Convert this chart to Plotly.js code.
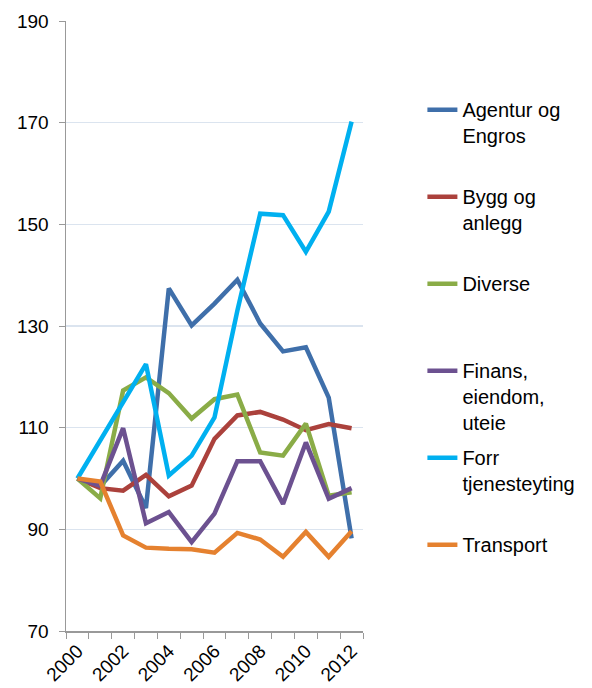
<!DOCTYPE html>
<html>
<head>
<meta charset="utf-8">
<script src="https://cdn.plot.ly/plotly-3.0.1.min.js"></script>
<style>html,body{margin:0;padding:0;background:#fff;}#chart{width:592px;height:688px;}</style>
</head>
<body>
<div id="chart"></div>
<script>
const years = [2000,2001,2002,2003,2004,2005,2006,2007,2008,2009,2010,2011,2012];
const tickYears = [2000,2002,2004,2006,2008,2010,2012];
const seriesNames = ["Agentur og<br>Engros","Bygg og<br>anlegg","Diverse","Finans,<br>eiendom,<br>uteie","Forr<br>tjenesteyting","Transport"];
const agentur = [100,98.5,103.5,94.2,137.4,130.1,134.4,139.1,130.5,125.0,125.8,115.9,88.2];
const bygg = [100,98.1,97.6,100.7,96.5,98.6,107.8,112.4,113.1,111.6,109.5,110.7,109.9];
const diverse = [100,96.1,117.3,119.9,116.8,111.8,115.6,116.5,105.1,104.5,110.8,96.6,97.3];
const finans = [100,98.6,109.9,91.2,93.4,87.5,93.1,103.4,103.4,95.0,107.1,96.0,98.1];
const forr = [100,107.5,115.0,122.5,100.6,104.5,112.0,133.0,152.1,151.8,144.6,152.5,170.2];
const transport = [100,99.4,88.8,86.4,86.2,86.1,85.4,89.3,88.0,84.6,89.5,84.6,89.6];
const colors = ["#3f6faa","#ab413c","#8aac47","#6c5190","#00b0f0","#e5812f"];
const allSeries = [agentur,bygg,diverse,finans,forr,transport];
const lineCounts = seriesNames.map(n => n.split("<br>").length);
const maxLines = 3;

const traces = allSeries.map((vals,i) => {
  let name = seriesNames[i];
  for (let k = lineCounts[i]; k < maxLines; k++) name += "<br>\u00a0";
  return {
    x: years, y: vals, type: "scatter", mode: "lines", name: name,
    legendgroup: "g"+i,
    line: {color: colors[i], width: 4.5}
  };
});

const layout = {
  width: 592, height: 688,
  margin: {l: 66, r: 229, t: 21, b: 57},
  paper_bgcolor: "#fff", plot_bgcolor: "#fff",
  font: {family: "Liberation Sans, Arial, sans-serif", color: "#000"},
  showlegend: true,
  legend: {
    x: 1.2, xanchor: "left", y: 0.8866, yanchor: "top",
    font: {size: 20, color: "#000"},
    valign: "top", tracegroupgap: 6,
    bgcolor: "rgba(0,0,0,0)"
  },
  xaxis: {
    range: [1999.5, 2012.5], tickmode: "array", tickvals: tickYears,
    ticktext: tickYears.map(String), tickangle: -45,
    ticks: "", showgrid: false, zeroline: false,
    showline: true, linecolor: "#999", linewidth: 1.5,
    tickfont: {size: 19, color: "#000"},
    minor: {tickmode: "linear", tick0: 1999.5, dtick: 1, ticks: "outside", ticklen: 6, tickcolor: "#999", showgrid: false}
  },
  yaxis: {
    range: [70, 190], tickmode: "linear", tick0: 70, dtick: 20,
    ticks: "outside", ticklen: 6, tickcolor: "#999",
    showgrid: true, gridcolor: "#dbe4ef", gridwidth: 1.5, zeroline: false,
    showline: true, linecolor: "#999", linewidth: 1.5,
    tickfont: {size: 19, color: "#000"}, ticklabelstandoff: 6
  }
};

Plotly.newPlot("chart", traces, layout, {staticPlot: true, displayModeBar: false});
</script>
</body>
</html>
